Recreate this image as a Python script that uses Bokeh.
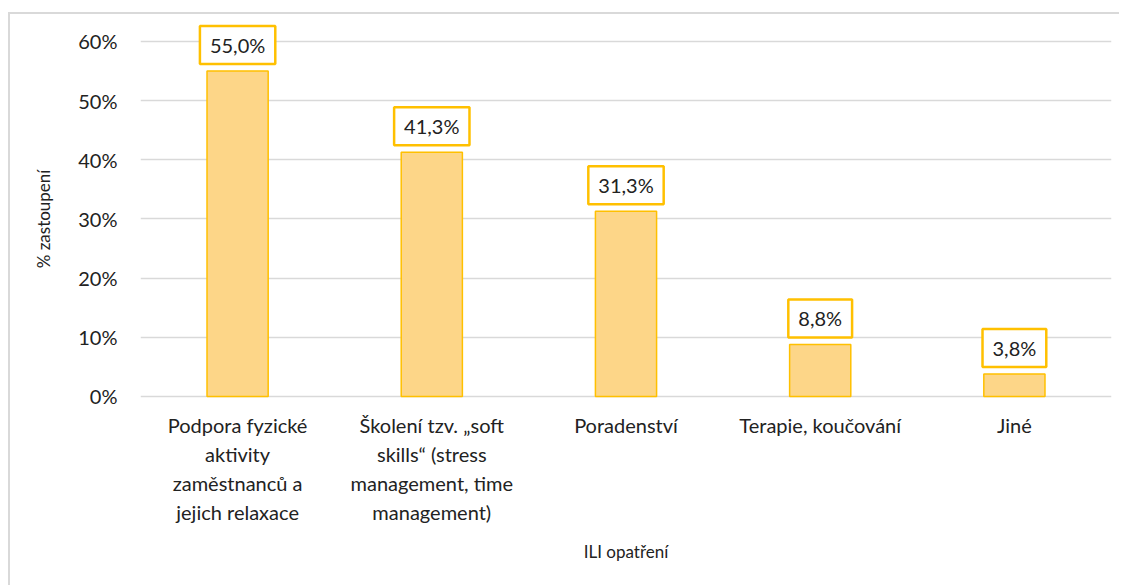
import math
from bokeh.plotting import figure
from bokeh.models import (ColumnDataSource, NumeralTickFormatter, FactorRange, FixedTicker,
                          Range1d, LinearAxis, CategoricalAxis)
from bokeh.core.properties import value
from bokeh.embed import file_html
from bokeh.resources import INLINE

categories = [
    "Podpora fyzické aktivity zaměstnanců a jejich relaxace",
    "Školení tzv. „soft skills“ (stress management, time management)",
    "Poradenství",
    "Terapie, koučování",
    "Jiné",
]
category_labels = [
    "Podpora fyzické\naktivity\nzaměstnanců a\njejich relaxace",
    "Školení tzv. „soft\nskills“ (stress\nmanagement, time\nmanagement)",
    "Poradenství",
    "Terapie, koučování",
    "Jiné",
]
values = [0.550, 0.413, 0.313, 0.088, 0.038]
value_labels = ["55,0%", "41,3%", "31,3%", "8,8%", "3,8%"]
y_ticks = [0.0, 0.1, 0.2, 0.3, 0.4, 0.5, 0.6]
x_title = "ILI opatření"
y_title = "% zastoupení"

FONT = "Lato"
TEXT = "#222222"
GRID = "#d9d9d9"

W, H = 1111, 573
BL, BR, BT, BB = 130, 10, 0, 49

source = ColumnDataSource(dict(cat=categories, val=values, lab=value_labels,
                               catlab=category_labels,
                               base=[y_ticks[0]] * len(categories)))

p = figure(
    x_range=FactorRange(factors=categories, range_padding=0),
    y_range=Range1d(-0.24, 0.6456),
    width=W, height=H,
    output_backend="svg", toolbar_location=None,
    min_border_left=BL, min_border_right=BR,
    min_border_top=BT, min_border_bottom=BB,
)
p.styles = {"border-left": "2px solid #d9d9d9", "border-top": "2px solid #d9d9d9",
            "margin-top": "12px", "margin-left": "8px"}
p.outline_line_color = None
p.background_fill_color = "white"
p.border_fill_color = "white"

p.vbar(x="cat", top="val", width=0.315, source=source,
       fill_color="#FDD688", line_color="#FFC000", line_width=1.5)

p.text(x="cat", y="val", text="lab", source=source,
       text_align="center", text_baseline="middle", y_offset=-26,
       text_font=value(FONT), text_font_size="20px", text_color=TEXT,
       background_fill_color="white", border_line_color="#FFC000",
       border_line_width=2.5,
       padding=dict(left=10, right=10, top=7, bottom=7))

# category labels (multi-line) below the baseline
p.text(x="cat", y="base", text="catlab", source=source,
       text_align="center", text_baseline="top", y_offset=17,
       text_font=value(FONT), text_font_size="20px", text_color=TEXT,
       text_line_height=1.2)

# y axis
p.yaxis.ticker = FixedTicker(ticks=y_ticks)
p.yaxis.formatter = NumeralTickFormatter(format="0%")
p.yaxis.axis_line_color = None
p.yaxis.major_tick_line_color = None
p.yaxis.minor_tick_line_color = None
p.yaxis.major_label_text_font = FONT
p.yaxis.major_label_text_font_size = "20px"
p.yaxis.major_label_text_color = TEXT
p.yaxis.major_label_standoff = 17

# y axis title: a second left axis with one tick in the middle of the value scale
y_mid = (y_ticks[0] + y_ticks[-1]) / 2
ytitle_axis = LinearAxis(ticker=FixedTicker(ticks=[y_mid]),
                         major_label_overrides={y_mid: y_title},
                         major_label_orientation="vertical",
                         axis_line_color=None, major_tick_line_color=None,
                         minor_tick_line_color=None, major_tick_out=0, major_tick_in=0,
                         major_label_standoff=21,
                         major_label_text_font=FONT, major_label_text_font_size="17px",
                         major_label_text_color=TEXT)
p.add_layout(ytitle_axis, "left")

# x axis title: a bottom categorical axis on a one-factor helper range (centred)
p.xaxis.visible = False
p.extra_x_ranges = {"title": FactorRange(factors=[x_title])}
xtitle_axis = CategoricalAxis(x_range_name="title",
                              axis_line_color=None, major_tick_line_color=None,
                              minor_tick_line_color=None, major_tick_out=0, major_tick_in=0,
                              major_label_standoff=2,
                              major_label_text_font=FONT, major_label_text_font_size="17px",
                              major_label_text_color=TEXT)
p.add_layout(xtitle_axis, "below")

p.xgrid.grid_line_color = None
p.ygrid.grid_line_color = GRID
p.ygrid.grid_line_width = 1.5

open("out.html", "w").write(file_html(p, INLINE))
